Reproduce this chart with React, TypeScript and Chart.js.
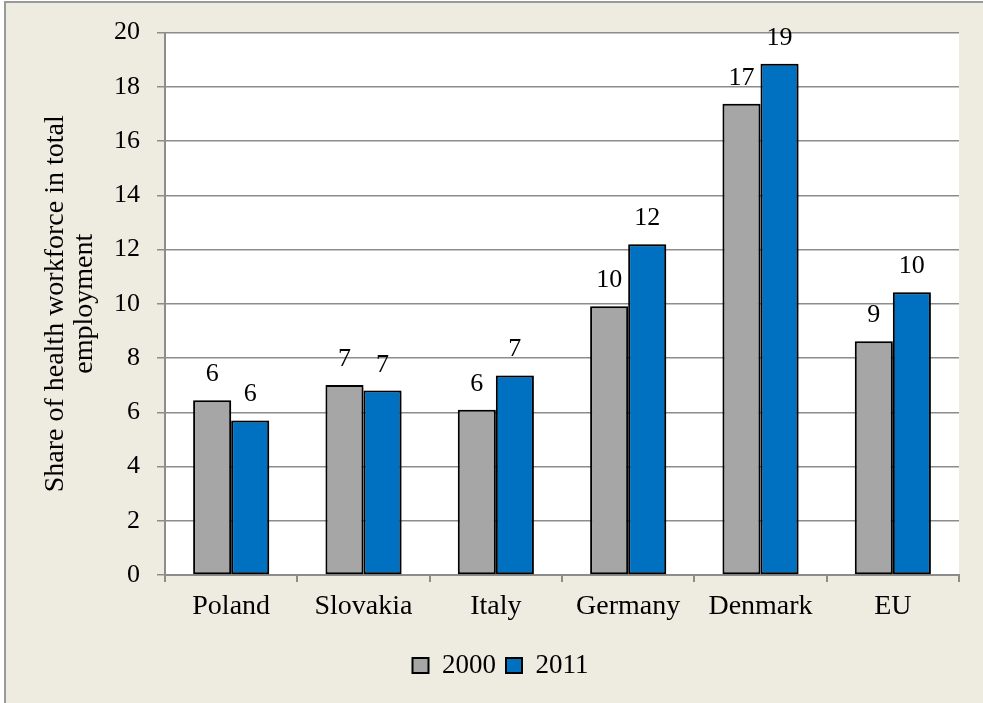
import React, { useEffect, useRef } from "react";
import { Chart, registerables } from "chart.js";

Chart.register(...registerables);

const categories = ["Poland", "Slovakia", "Italy", "Germany", "Denmark", "EU"];
const seriesNames = ["2000", "2011"];
const values2000 = [6.44, 7.01, 6.09, 9.91, 17.38, 8.62];
const values2011 = [5.7, 6.8, 7.36, 12.2, 18.85, 10.43];
const seriesColors = ["#A6A6A6", "#0070C0"];
const yAxisTitle = ["Share of health workforce in total", "employment"];
const yMin = 0;
const yMax = 20;
const yStep = 2;

const FONT = "'Liberation Serif', 'Times New Roman', serif";

export default function App() {
  const canvasRef = useRef<HTMLCanvasElement | null>(null);

  useEffect(() => {
    if (!canvasRef.current) return;

    const plotBg = {
      id: "plotBg",
      beforeDraw(chart: any) {
        const { ctx, chartArea } = chart;
        ctx.save();
        ctx.fillStyle = "#FFFFFF";
        ctx.fillRect(chartArea.left, chartArea.top, chartArea.right - chartArea.left, chartArea.bottom - chartArea.top);
        ctx.restore();
      },
    };

    const barShadow = {
      id: "barShadow",
      beforeDatasetsDraw(chart: any) {
        const ctx = chart.ctx;
        ctx.save();
        ctx.shadowColor = "rgba(0,0,0,0.35)";
        ctx.shadowBlur = 4;
        ctx.shadowOffsetX = 2;
        ctx.shadowOffsetY = 1;
      },
      afterDatasetsDraw(chart: any) {
        chart.ctx.restore();
      },
    };

    const dataLabels = {
      id: "dataLabels",
      afterDatasetsDraw(chart: any) {
        const ctx = chart.ctx;
        ctx.save();
        ctx.font = `26px ${FONT}`;
        ctx.fillStyle = "#000000";
        ctx.textAlign = "center";
        ctx.textBaseline = "alphabetic";
        chart.data.datasets.forEach((ds: any, di: number) => {
          const meta = chart.getDatasetMeta(di);
          meta.data.forEach((el: any, i: number) => {
            const v = ds.data[i];
            ctx.fillText(String(Math.round(v)), el.x, el.y - 19);
          });
        });
        ctx.restore();
      },
    };

    const legendShift = {
      id: "legendShift",
      afterLayout(chart: any) {
        if (chart.legend) {
          chart.legend.left += 21;
          chart.legend.right += 21;
        }
      },
    };

    const chart = new Chart(canvasRef.current, {
      type: "bar",
      data: {
        labels: categories,
        datasets: [
          {
            label: seriesNames[0],
            data: values2000,
            backgroundColor: seriesColors[0],
            borderColor: "#000000",
            borderWidth: 2,
            borderSkipped: false,
            categoryPercentage: 0.575,
            barPercentage: 1,
          },
          {
            label: seriesNames[1],
            data: values2011,
            backgroundColor: seriesColors[1],
            borderColor: "#000000",
            borderWidth: 2,
            borderSkipped: false,
            categoryPercentage: 0.575,
            barPercentage: 1,
          },
        ],
      },
      options: {
        responsive: false,
        animation: false,
        layout: { padding: { top: 32, right: 24, bottom: 14, left: 0 } },
        plugins: {
          legend: {
            position: "bottom",
            labels: {
              font: { family: FONT, size: 27 },
              color: "#000000",
              boxWidth: 16,
              boxHeight: 15,
              padding: 10,
            },
          },
          tooltip: { enabled: false },
        },
        scales: {
          x: {
            grid: {
              offset: true,
              drawOnChartArea: false,
              drawTicks: true,
              tickLength: 7,
              color: "#8c8c8c",
              lineWidth: 2,
            },
            border: { color: "#8c8c8c", width: 2 },
            ticks: {
              font: { family: FONT, size: 28 },
              color: "#000000",
              padding: 8,
              maxRotation: 0,
              autoSkip: false,
            },
            afterFit: (s: any) => {
              s.height = 67;
            },
          },
          y: {
            min: yMin,
            max: yMax,
            ticks: {
              stepSize: yStep,
              font: { family: FONT, size: 26 },
              color: "#000000",
              padding: 17,
            },
            grid: { color: "#8c8c8c", lineWidth: 1.5, tickLength: 8 },
            border: { color: "#8c8c8c", width: 2 },
            title: {
              display: true,
              text: yAxisTitle,
              font: { family: FONT, size: 28, lineHeight: 1.036 },
              color: "#000000",
              padding: { top: 41, bottom: 0 },
            },
            afterFit: (s: any) => {
              s.width = 165;
            },
          },
        },
      },
      plugins: [plotBg, barShadow, dataLabels, legendShift],
    });

    return () => chart.destroy();
  }, []);

  return (
    <div
      style={{
        position: "fixed",
        left: 0,
        top: 0,
        width: 983,
        height: 703,
        background: "#FFFFFF",
        overflow: "hidden",
      }}
    >
      <div
        style={{
          position: "absolute",
          left: 4,
          top: 1,
          right: -10,
          bottom: -10,
          background: "#EEECE1",
          borderLeft: "2px solid #9a9a9a",
          borderTop: "2px solid #9a9a9a",
        }}
      />
      <canvas
        ref={canvasRef}
        width={983}
        height={703}
        style={{ position: "absolute", left: 0, top: 0, display: "block" }}
      />
    </div>
  );
}
